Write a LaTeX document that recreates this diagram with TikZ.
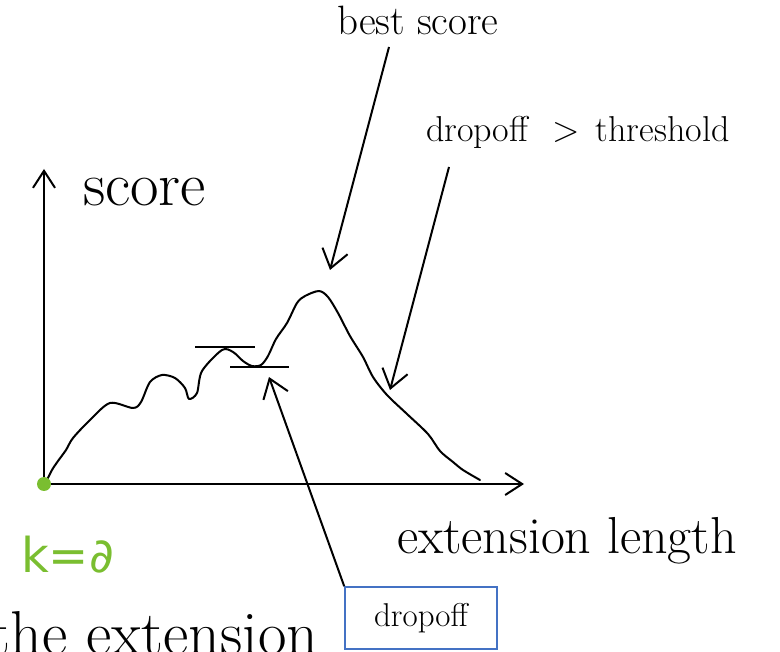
\documentclass[tikz,border=0pt]{standalone}
\usepackage{fontspec}
\usepackage{tikz}
\usetikzlibrary{arrows.meta,positioning}
\newfontfamily\handfont{DejaVu Sans}
\definecolor{kgreen}{RGB}{122,190,48}
\definecolor{boxblue}{RGB}{68,114,196}

\begin{document}
\begin{tikzpicture}[x=1pt,y=-1pt,line width=2pt,
  axis/.style={-{Straight Barb[length=17pt,width=22pt]}},
  pointer/.style={-{Straight Barb[length=18pt,width=26pt]}},
  lbl/.style={inner sep=0pt,anchor=base west}]
\useasboundingbox (0,0) rectangle (780,652);
% axes
\coordinate (o) at (44,484);
\coordinate (ytop) at (44,169);
\coordinate (xend) at (524,484);
\draw[axis] (o) -- (ytop);
\draw[axis] (o) -- (xend);
\node[lbl,font=\fontsize{62}{64}\selectfont] (ylab) at (82,206) {score};
\node[lbl,font=\fontsize{52}{56}\selectfont] (xlab) at (396,554) {extension length};
\node[lbl,font=\fontsize{62}{64}\selectfont] (ext) at (-12,654) {the extension};
% score curve
\draw[line join=round,line cap=round] plot[smooth,tension=0.5] coordinates {
  (46,482) (52,470) (58,461) (66,450) (73,438) (90,420) (110,403)
  (133,408) (141,402) (150,382) (162,375) (175,378) (185,388) (189,399)
  (197,393) (202,371) (222,350) (233,352) (243,361) (252,366) (261,365)
  (268,356) (276,339) (287,323) (297,303) (305,296) (319,291) (328,297)
  (338,313) (350,336) (363,357) (373,377) (387,395) (407,414) (428,434)
  (440,451) (453,462) (463,470) (480,480)};
\fill[kgreen] (o) circle (7);
\node[lbl,text=kgreen,font=\fontsize{48}{52}\handfont\selectfont] (kz) at (20,572) {k=∂};
% dropoff marks
\coordinate (h1a) at (195,347);
\coordinate (h1b) at (255,347);
\coordinate (h2a) at (230,367);
\coordinate (h2b) at (289,367);
\draw (h1a) -- (h1b);
\draw (h2a) -- (h2b);
% labels and pointers
\node[lbl,font=\fontsize{41}{44}\selectfont] (best) at (336,35) {best score};
\node[lbl,font=\fontsize{36}{40}\selectfont] (thr) at (425,142)
  {dropoff\hspace{24pt}>\hspace{16pt}threshold};
\node[draw=boxblue,line width=1.6pt,minimum width=152pt,minimum height=62pt,
  font=\fontsize{33}{36}\selectfont] (drop) at (421,618) {dropoff};
\coordinate (peak) at (330,270);
\coordinate (fall) at (390,390);
\coordinate (dip) at (269,377);
\draw[pointer] ([xshift=53pt,yshift=-12pt]best.base west) -- (peak);
\draw[pointer] ([xshift=24pt,yshift=-25pt]thr.base west) -- (fall);
\draw[pointer] (drop.north west) -- (dip);
\end{tikzpicture}
\end{document}
